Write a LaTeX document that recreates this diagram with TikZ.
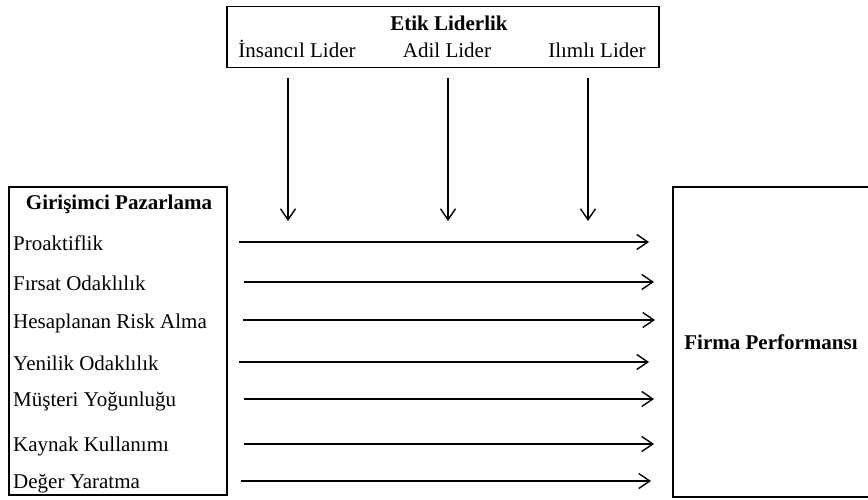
\documentclass[tikz,border=0pt]{standalone}
\usepackage{fontspec}
\setmainfont{Liberation Serif}
\usetikzlibrary{arrows.meta}
\begin{document}
\begin{tikzpicture}[x=1pt, y=-1pt]
\tikzset{frame/.style={draw, line width=1.4pt, inner sep=0pt}}
\tikzset{lbl/.style={inner sep=0pt, font=\fontsize{21}{25}\selectfont}}
\tikzset{hd/.style={lbl, font=\fontsize{21}{25}\selectfont\bfseries}}
\tikzset{link/.style={-{Straight Barb[length=11pt, width=15pt, line width=1.4pt]}, line width=1.4pt}}
\useasboundingbox (0,0) rectangle (868,500);
% boxes
\node (etikbox)  [frame, minimum width=432pt, minimum height=61pt]  at (443, 37) {};
\node (girbox)   [frame, minimum width=218pt, minimum height=308pt] at (118,341) {};
\node (firmabox) [frame, minimum width=206pt, minimum height=310pt] at (776,342) {};
% headings
\node (etik)  [hd, anchor=base] at (449, 31) {Etik Liderlik};
\node (gir)   [hd, anchor=base] at (119,209) {Girişimci Pazarlama};
\node (firma) [hd]              at (771,342) {Firma Performansı};
% leaders
\node (insan) [lbl, anchor=base] at (297, 58) {İnsancıl Lider};
\node (adil)  [lbl, anchor=base] at (447, 58) {Adil Lider};
\node (ilimli)[lbl, anchor=base] at (597, 58) {Ilımlı Lider};
% dimensions
\node (pro)     [lbl, anchor=base west] at (13,250) {Proaktiflik};
\node (firsat)  [lbl, anchor=base west] at (13,290) {Fırsat Odaklılık};
\node (risk)    [lbl, anchor=base west] at (13,328) {Hesaplanan Risk Alma};
\node (yenilik) [lbl, anchor=base west] at (13,370) {Yenilik Odaklılık};
\node (musteri) [lbl, anchor=base west] at (13,406) {Müşteri Yoğunluğu};
\node (kaynak)  [lbl, anchor=base west] at (13,451) {Kaynak Kullanımı};
\node (deger)   [lbl, anchor=base west] at (13,488) {Değer Yaratma};
% arrow ends
\coordinate (insan1)  at (288, 78);  \coordinate (insan2)  at (288,221);
\coordinate (adil1)   at (448, 78);  \coordinate (adil2)   at (448,221);
\coordinate (ilimli1) at (588, 78);  \coordinate (ilimli2) at (588,221);
\coordinate (pro1)     at (239,242); \coordinate (pro2)     at (649,242);
\coordinate (firsat1)  at (244,282); \coordinate (firsat2)  at (654,282);
\coordinate (risk1)    at (243,320); \coordinate (risk2)    at (655,320);
\coordinate (yenilik1) at (239,362); \coordinate (yenilik2) at (649,362);
\coordinate (musteri1) at (244,399); \coordinate (musteri2) at (654,399);
\coordinate (kaynak1)  at (244,444); \coordinate (kaynak2)  at (654,444);
\coordinate (deger1)   at (241,481); \coordinate (deger2)   at (651,481);
% moderating arrows
\draw[link] (insan1) -- (insan2);
\draw[link] (adil1) -- (adil2);
\draw[link] (ilimli1) -- (ilimli2);
% main arrows
\draw[link] (pro1) -- (pro2);
\draw[link] (firsat1) -- (firsat2);
\draw[link] (risk1) -- (risk2);
\draw[link] (yenilik1) -- (yenilik2);
\draw[link] (musteri1) -- (musteri2);
\draw[link] (kaynak1) -- (kaynak2);
\draw[link] (deger1) -- (deger2);
\end{tikzpicture}
\end{document}
